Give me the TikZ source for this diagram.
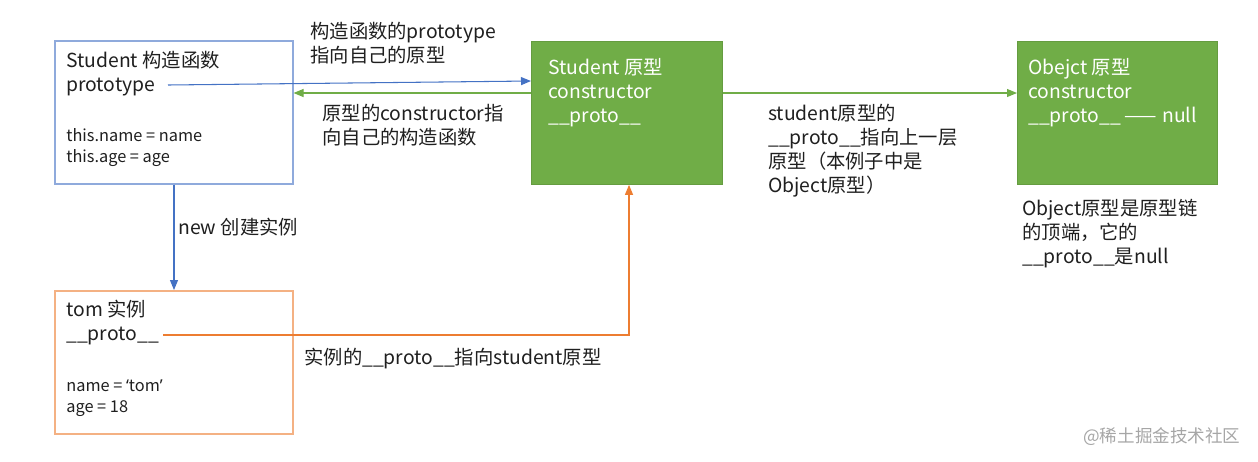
\documentclass[tikz,border=0pt]{standalone}
\usepackage{fontspec}
\setmainfont{Noto Sans CJK SC}
\newfontfamily\latinq{Noto Sans}
\usetikzlibrary{positioning,arrows.meta,calc}
\definecolor{boxblue}{HTML}{8FAADC}
\definecolor{arrblue}{HTML}{4472C4}
\definecolor{protogreen}{HTML}{70AD47}
\definecolor{boxorange}{HTML}{F4B183}
\definecolor{arrorange}{HTML}{ED7D31}
\definecolor{arrgreen}{HTML}{70AD47}
\tikzset{
  % base = baseline of the last line
  txt/.style={anchor=base west, inner sep=0pt, align=left, text=black!88,
              font=\fontsize{11}{13.66}\selectfont},
  small/.style={txt, font=\fontsize{9.3}{11.95}\selectfont},
  wtxt/.style={txt, text=white},
  box/.style={anchor=north west, inner sep=0pt, line width=0.9pt,
              minimum width=4.76cm, minimum height=2.86cm},
  gbox/.style={box, fill=protogreen, draw=protogreen!90!black, line width=0.5pt,
              minimum width=3.82cm},
  tip/.style={-{Triangle[length=2mm,width=1.6mm]}, line width=0.6pt},
}
\begin{document}
\begin{tikzpicture}[x=0.02cm, y=-0.02cm]
  \useasboundingbox (0,0) rectangle (1258,461);
%
  \node[box, draw=boxblue]    (ctor)   at (54,40)   {};
  \node[box, draw=boxorange]  (tom)    at (54,290)  {};
  \node[gbox]                 (sproto) at (531,41)  {};
  \node[gbox, minimum width=4cm] (oproto) at (1017,41) {};
%
  \node[txt]   (ctortitle) at (66,67)  {Student 构造函数};
  \node[txt]   (ptype)     at (66,91)  {prototype};
  \node[small] (ctorbody)  at (66,162) {this.name = name\\this.age = age};
%
  \node[txt]   (tomtitle)  at (66,316) {tom 实例};
  \node[txt]   (tomproto)  at (66,340) {\_\_proto\_\_};
  \node[small] (tombody)   at (66,412) {name = {\latinq ‘}tom{\latinq ’}\\age = 18};
%
  \node[wtxt] (stitle) at (548,122) {Student 原型\\constructor\\\_\_proto\_\_};
  \node[wtxt] (otitle) at (1028,122) {Obejct 原型\\constructor\\\_\_proto\_\_\hspace{0.08cm}——\hspace{0.1cm}null};
%
  \node[txt] (lblptype) at (310,62)  {构造函数的prototype\\指向自己的原型};
  \node[txt] (lblctor)  at (322,144) {原型的constructor指\\向自己的构造函数};
  \node[txt] (lblchain) at (768,192) {student原型的\\\_\_proto\_\_指向上一层\\原型（本例子中是\\Object原型）};
  \node[txt] (lbltop)   at (1022,263) {Object原型是原型链\\的顶端，它的\\\_\_proto\_\_是null};
  \node[txt] (lblnew)   at (178,234) {new 创建实例};
  \node[txt] (lblinst)  at (304,364) {实例的\_\_proto\_\_指向student原型};
%
  \node[txt, text=black!35, font=\fontsize{10}{12}\selectfont] (mark) at (1083,442) {@稀土掘金技术社区};
%
  \coordinate (ptypeEnd) at (168,85);
  \coordinate (sprotoIn) at (sproto.west |- 0,81);
  \draw[tip, arrblue]  (ptypeEnd) -- (sprotoIn);
  \draw[tip, arrgreen] (sproto.west |- 0,93) -- (ctor.east |- 0,93);
  \draw[tip, arrgreen] (sproto.east |- 0,93) -- (oproto.west |- 0,93);
  \draw[tip, arrblue]  (ctor.south -| 174,0) -- (tom.north -| 174,0);
%
  \coordinate (tomEnd) at (163,335);
  \draw[tip, arrorange] (tomEnd) -| (sproto.south -| 629,0);
\end{tikzpicture}
\end{document}
